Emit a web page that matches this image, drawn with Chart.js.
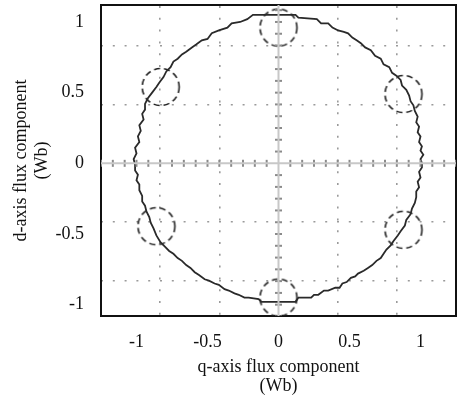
<!DOCTYPE html>
<html>
<head>
<meta charset="utf-8">
<script src="https://cdn.jsdelivr.net/npm/chart.js@4/dist/chart.umd.min.js"></script>
<style>
    body { margin: 0; background: #fff; }
    #wrap { width: 459px; height: 406px; }
</style>
</head>
<body>
<div id="wrap"><canvas id="chart" width="459" height="406"></canvas></div>
<script>
// flux trajectory, [q, d] in Wb, counter-clockwise from q = 1
const fluxPath = [
    [1.01, 0.00], [1.00, 0.03], [1.02, 0.06], [1.00, 0.09], [1.01, 0.12], [0.99, 0.15],
    [1.00, 0.19], [0.98, 0.22], [0.99, 0.26], [0.97, 0.29], [0.98, 0.33], [0.96, 0.37],
    [0.95, 0.41], [0.93, 0.44], [0.92, 0.48], [0.90, 0.52], [0.87, 0.55], [0.86, 0.59],
    [0.83, 0.62], [0.80, 0.64], [0.78, 0.68], [0.74, 0.70], [0.72, 0.74], [0.68, 0.76],
    [0.65, 0.80], [0.61, 0.82], [0.58, 0.85], [0.55, 0.87], [0.52, 0.89], [0.49, 0.92],
    [0.46, 0.93], [0.42, 0.94], [0.38, 0.96], [0.35, 0.99], [0.30, 0.99], [0.27, 1.02],
    [0.14, 1.03], [0.12, 1.05], [0.00, 1.05], [-0.12, 1.05], [-0.18, 1.05], [-0.22, 1.02],
    [-0.27, 1.00], [-0.33, 0.99], [-0.36, 0.96], [-0.42, 0.94], [-0.47, 0.92], [-0.50, 0.88],
    [-0.54, 0.87], [-0.58, 0.84], [-0.61, 0.82], [-0.65, 0.79], [-0.68, 0.77], [-0.71, 0.74],
    [-0.74, 0.72], [-0.76, 0.68], [-0.79, 0.65], [-0.81, 0.61], [-0.84, 0.57], [-0.86, 0.54],
    [-0.89, 0.50], [-0.92, 0.46], [-0.94, 0.42], [-0.94, 0.38], [-0.96, 0.35], [-0.95, 0.31],
    [-0.98, 0.27], [-0.97, 0.23], [-0.99, 0.19], [-0.98, 0.15], [-1.01, 0.11], [-1.00, 0.07],
    [-1.02, 0.03], [-1.01, -0.01], [-1.01, -0.05], [-0.99, -0.08], [-1.00, -0.12], [-0.98, -0.15],
    [-0.98, -0.19], [-0.96, -0.23], [-0.96, -0.27], [-0.94, -0.30], [-0.93, -0.34], [-0.91, -0.38],
    [-0.90, -0.42], [-0.88, -0.46], [-0.86, -0.51], [-0.83, -0.56], [-0.80, -0.59], [-0.77, -0.62],
    [-0.74, -0.64], [-0.71, -0.67], [-0.68, -0.69], [-0.65, -0.72], [-0.62, -0.74], [-0.59, -0.77],
    [-0.56, -0.79], [-0.52, -0.82], [-0.49, -0.83], [-0.45, -0.85], [-0.42, -0.86], [-0.38, -0.89],
    [-0.35, -0.90], [-0.31, -0.92], [-0.28, -0.93], [-0.24, -0.95], [-0.21, -0.95], [-0.14, -0.96],
    [-0.12, -0.98], [0.00, -0.98], [0.12, -0.98], [0.14, -0.95], [0.23, -0.95], [0.25, -0.93],
    [0.28, -0.93], [0.32, -0.90], [0.35, -0.90], [0.40, -0.88], [0.43, -0.88], [0.45, -0.85],
    [0.48, -0.84], [0.51, -0.81], [0.54, -0.80], [0.56, -0.78], [0.60, -0.76], [0.63, -0.74],
    [0.66, -0.72], [0.69, -0.69], [0.72, -0.67], [0.74, -0.64], [0.76, -0.61], [0.79, -0.58],
    [0.81, -0.55], [0.84, -0.51], [0.86, -0.48], [0.89, -0.44], [0.90, -0.40], [0.93, -0.36],
    [0.94, -0.32], [0.96, -0.28], [0.97, -0.24], [0.97, -0.20], [0.99, -0.17], [0.98, -0.13],
    [1.00, -0.10], [0.99, -0.06], [1.01, -0.03], [1.01, 0.00]
];

// dashed circles marking the sector changes
const markerQ = [0.00, 0.88, 0.88, 0.00, -0.86, -0.83];
const markerD = [0.96, 0.49, -0.47, -0.95, -0.445, 0.54];

const xTickValues = [-1, -0.5, 0, 0.5, 1];
const yTickValues = [-1, -0.5, 0, 0.5, 1];
const gridValues = [-0.8333, -0.4167, 0.4167, 0.8333];
// small marks along the zero axes
const axisMarks = [-1.25, -1.1667, -1.0833, -1, -0.9167, -0.8333, -0.75, -0.6667, -0.5833, -0.5,
    -0.4167, -0.3333, -0.25, -0.1667, -0.0833, 0.0833, 0.1667, 0.25, 0.3333, 0.4167, 0.5,
    0.5833, 0.6667, 0.75, 0.8333, 0.9167, 1, 1.0833, 1.1667, 1.25];

const xMin = -1.25, xMax = 1.25;
const yMin = -1.08, yMax = 1.12;

function dashedRing() {
    const c = document.createElement('canvas');
    c.width = 42;
    c.height = 42;
    const g = c.getContext('2d');
    g.strokeStyle = '#222';
    g.lineWidth = 1.6;
    g.setLineDash([6, 4]);
    g.beginPath();
    g.arc(21, 21, 18.5, 0, Math.PI * 2);
    g.stroke();
    return c;
}

const serif = 'Liberation Serif';

// scales keep their own label overhang out of the layout
function noPad(s) {
    s.paddingTop = 0;
    s.paddingBottom = 0;
    s.paddingLeft = 0;
    s.paddingRight = 0;
}

const ctx = document.getElementById('chart').getContext('2d');
new Chart(ctx, {
    type: 'scatter',
    data: {
        datasets: [
            {
                // horizontal zero axis
                type: 'line',
                data: [{x: xMin, y: 0}, {x: xMax, y: 0}],
                borderColor: '#c8c8c8',
                borderWidth: 2,
                pointRadius: 0
            },
            {
                type: 'line',
                data: [{x: 0, y: yMin}, {x: 0, y: yMax}],
                borderColor: '#c8c8c8',
                borderWidth: 2,
                pointRadius: 0
            },
            {
                data: axisMarks.map(v => ({x: v, y: 0})),
                pointStyle: 'line',
                rotation: 90,
                radius: 3.5,
                borderColor: '#8a8a8a',
                borderWidth: 2
            },
            {
                data: axisMarks.map(v => ({x: 0, y: v})),
                pointStyle: 'line',
                rotation: 0,
                radius: 3.5,
                borderColor: '#8a8a8a',
                borderWidth: 2
            },
            {
                type: 'line',
                data: fluxPath.map(p => ({x: p[0], y: p[1]})),
                borderColor: '#2a2a2a',
                borderWidth: 1.8,
                pointRadius: 0,
                tension: 0
            },
            {
                data: markerQ.map((q, i) => ({x: q, y: markerD[i]})),
                pointStyle: dashedRing(),
                radius: 18
            }
        ]
    },
    options: {
        responsive: false,
        animation: false,
        layout: { autoPadding: false, padding: { top: 5, right: 3, left: 0, bottom: 0 } },
        plugins: {
            legend: { display: false },
            tooltip: { enabled: false }
        },
        scales: {
            x: {
                type: 'linear',
                position: 'bottom',
                min: xMin,
                max: xMax,
                afterBuildTicks: s => { s.ticks = xTickValues.map(v => ({value: v})); },
                afterFit: s => { s.height = 90; noPad(s); },
                grid: { display: false },
                border: { display: true, color: '#111', width: 2 },
                ticks: {
                    padding: 7,
                    color: '#111',
                    font: { family: serif, size: 18 },
                    maxRotation: 0,
                    callback: v => String(v)
                },
                title: {
                    display: true,
                    text: ['q-axis flux component', '(Wb)'],
                    color: '#111',
                    font: { family: serif, size: 18, lineHeight: '19px' },
                    padding: { top: 0, bottom: 10 }
                }
            },
            y: {
                type: 'linear',
                position: 'left',
                min: yMin,
                max: yMax,
                afterBuildTicks: s => { s.ticks = yTickValues.map(v => ({value: v})); },
                afterFit: s => { s.width = 101; noPad(s); },
                grid: { display: false },
                border: { display: true, color: '#111', width: 2 },
                ticks: {
                    padding: 9,
                    color: '#111',
                    font: { family: serif, size: 18 },
                    callback: v => String(v)
                },
                title: {
                    display: true,
                    text: ['d-axis flux component', '(Wb)'],
                    color: '#111',
                    font: { family: serif, size: 18, lineHeight: '21px' },
                    padding: { top: 11, bottom: 0 }
                }
            },
            xg: {
                type: 'linear',
                position: 'top',
                min: xMin,
                max: xMax,
                afterBuildTicks: s => { s.ticks = gridValues.map(v => ({value: v})); },
                afterFit: s => { s.height = 0; noPad(s); },
                ticks: { display: false },
                grid: { color: '#9a9a9a', lineWidth: 1.6, drawTicks: false },
                border: { display: true, color: '#111', width: 2, dash: [2, 9.8] }
            },
            yg: {
                type: 'linear',
                position: 'right',
                min: yMin,
                max: yMax,
                afterBuildTicks: s => { s.ticks = gridValues.map(v => ({value: v})); },
                afterFit: s => { s.width = 0; noPad(s); },
                ticks: { display: false },
                grid: { color: '#9a9a9a', lineWidth: 1.6, drawTicks: false },
                border: { display: true, color: '#111', width: 2, dash: [2, 9.8] }
            }
        }
    }
});
</script>
</body>
</html>
